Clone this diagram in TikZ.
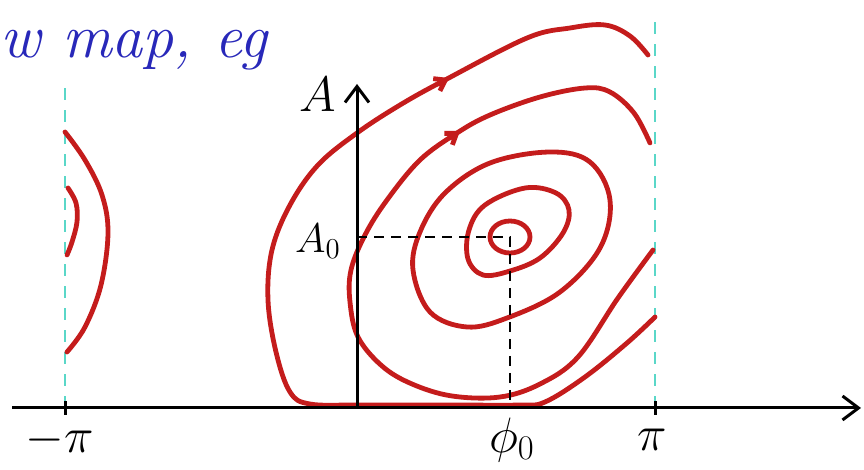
\documentclass[tikz,border=0pt]{standalone}
\usepackage{tikz}
\usetikzlibrary{arrows.meta,calc}
\definecolor{orbitred}{RGB}{196,28,28}
\definecolor{penblue}{RGB}{40,40,185}
\definecolor{cyanpen}{RGB}{90,215,200}

\begin{document}
\begin{tikzpicture}[x=0.5pt,y=-0.5pt,
   axis/.style={line width=1.5pt,black},
   orbit/.style={line width=2.4pt,orbitred,line cap=round,line join=round},
   guide/.style={line width=1.3pt,black,dash pattern=on 5pt off 3.5pt},
   period/.style={line width=1pt,cyanpen,dash pattern=on 6pt off 5pt},
   barb/.style={-{Straight Barb[length=8pt,width=12pt]}},
   flow/.style={-{Straight Barb[length=5pt,width=7pt]}},
   lbl/.style={font=\fontsize{24}{28}\selectfont,inner sep=0pt}]
  \useasboundingbox (0,0) rectangle (864,470);
  % reference points
  \coordinate (O)    at (357,408);
  \coordinate (fix)  at (510,237);
  \coordinate (xend) at (861,408);
  \coordinate (yend) at (357,84);
  \coordinate (mpi)  at (65,408);
  \coordinate (ppi)  at (655,408);
  % periodic boundaries
  \draw[period] (mpi) -- (65,80);
  \draw[period] (ppi) -- (655,15);
  % orbits
  \draw[orbit] (fix) ellipse[x radius=20,y radius=16];
  \draw[orbit] plot[smooth cycle,tension=0.6] coordinates {(525,188) (556,193) (569,210) (563,233) (540,258) (510,271) (483,275) (468,259) (469,230) (485,205)};
  \draw[orbit] plot[smooth cycle,tension=0.6] coordinates {(550,152) (590,162) (610,200) (600,248) (560,292) (507,318) (467,327) (430,312) (413,270) (420,232) (445,193) (490,163)};
  \draw[orbit] plot[smooth,tension=0.6] coordinates {(650,143) (634,113) (610,92) (585,88) (540,97) (490,115) (457,133) (420,160) (387,200) (365,235) (351,270) (350,302) (358,337) (382,366) (412,384) (452,396) (500,397) (540,384) (578,357) (618,298) (653,250)};
  \draw[orbit] plot[smooth,tension=0.6] coordinates {(648,55) (630,36) (605,25) (570,28) (527,38) (445,80) (400,105) (357,133) (318,165) (290,205) (272,250) (268,300) (276,352) (290,392) (310,404) (360,405) (450,405) (520,405) (545,402) (585,377) (627,343) (655,317)};
  \draw[orbit] plot[smooth,tension=0.6] coordinates {(65,132) (85,160) (102,195) (108,233) (101,285) (85,327) (67,352)};
  \draw[orbit] plot[smooth,tension=0.6] coordinates {(68,188) (76,203) (77,222) (72,242) (67,255)};
  % flow direction
  \draw[orbit,flow] (438,84) -- (449,78);
  \draw[orbit,flow] (450,138) -- (460,131);
  % fixed point guides
  \draw[guide] (O |- fix) -- (fix) -- (fix |- O);
  % axes
  \draw[axis,barb] (12,408) -- (xend);
  \draw[axis,barb] (O) -- (yend);
  \draw[axis] (65,401) -- (65,415);
  \draw[axis] (655,401) -- (655,415);
  % labels
  \node[font=\fontsize{31}{36}\selectfont\itshape,text=penblue,anchor=base west,inner sep=0pt] (title) at (0,58) {w map, eg};
  \node[lbl] (Alab) at (318,95) {$A$};
  \node[lbl,font=\fontsize{20}{24}\selectfont] (A0lab) at (318,241) {$A_0$};
  \node[lbl] (mpilab) at (60,440) {$-\pi$};
  \node[lbl] (pilab) at (652,440) {$\pi$};
  \node[lbl] (phi0lab) at (512,440) {$\phi_0$};
\end{tikzpicture}
\end{document}
